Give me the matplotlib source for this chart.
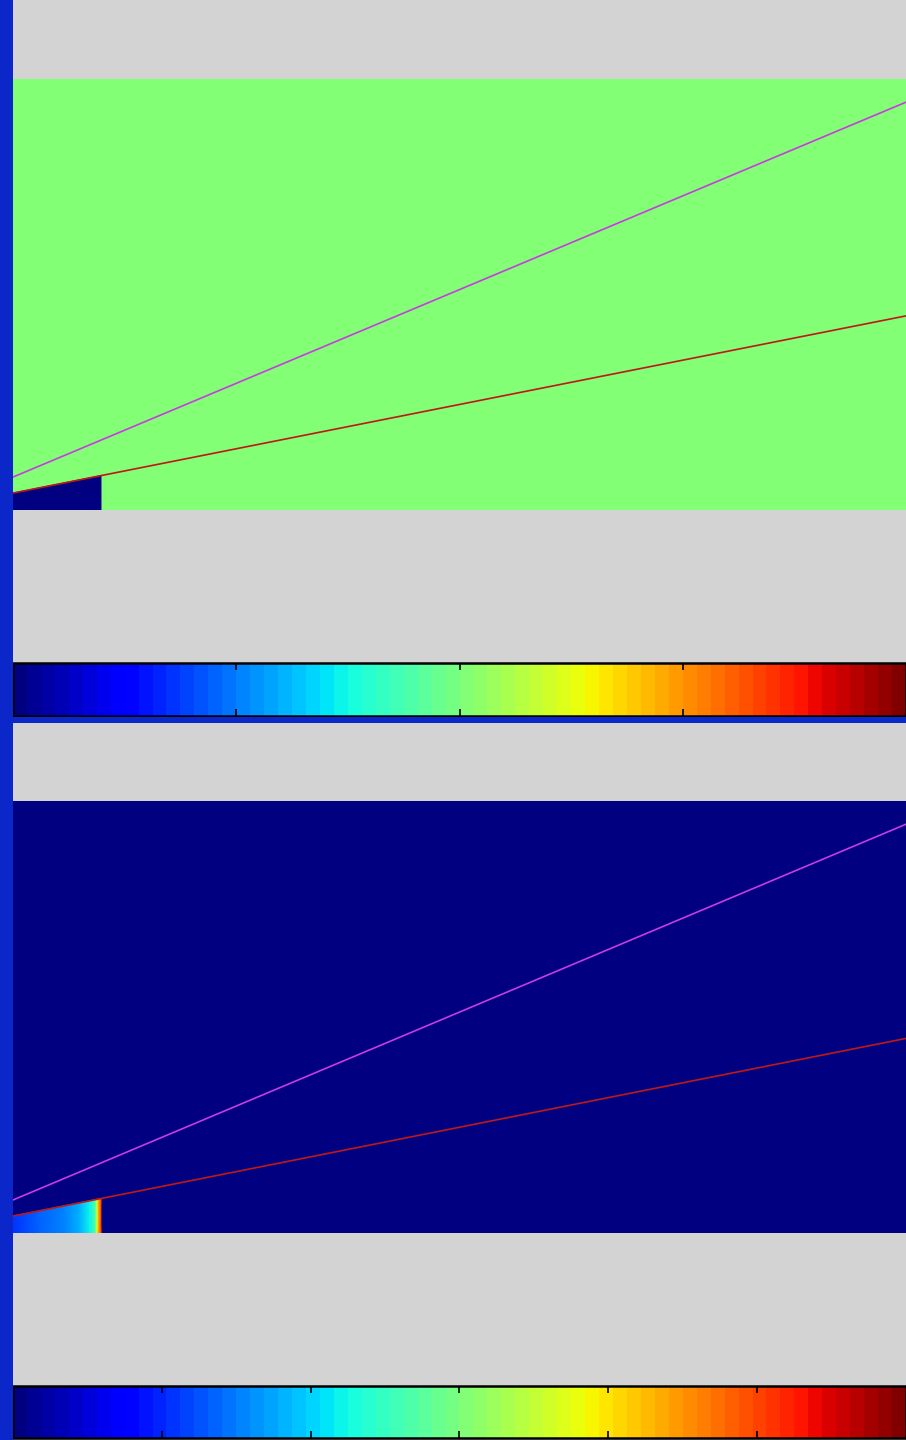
import numpy as np
import matplotlib
matplotlib.use("Agg")
import matplotlib.pyplot as plt
from matplotlib.colors import Normalize
from matplotlib.cm import ScalarMappable
from matplotlib.patches import Rectangle

# ---- data -------------------------------------------------------------
domain_x = [0.0, 1.0]
domain_y = [0.0, 0.484]
step_end_x = 0.0985                 # right edge of the region behind the step

shock_line = [0.037, 0.421]         # intercept, slope (magenta)
wedge_line = [0.019, 0.199]         # intercept, slope (red)

# upper field: uniform state with a depleted pocket behind the step
top_clim = [-1.0, 1.0]
top_ticks = [-0.5, 0.0, 0.5]
top_background = 0.0
top_pocket = -1.0

# lower field: zero outside, rising profile inside the pocket
bot_clim = [0.0, 3.0]
bot_ticks = [0.5, 1.0, 1.5, 2.0, 2.5]
bot_background = 0.0
pocket_x = [0.0, 0.030, 0.058, 0.075, 0.086, 0.092, 0.094, 0.096, 0.0985]
pocket_val = [0.54, 0.66, 0.78, 0.93, 1.11, 1.35, 1.80, 2.16, 2.55]

# ---- layout -----------------------------------------------------------
W, H = 906, 1440
GRAY = "#d3d3d3"
FRAME_BLUE = "#0b26c9"
cmap = plt.get_cmap("jet", 64)

fig = plt.figure(figsize=(W / 100, H / 100), dpi=100, facecolor=GRAY)


def box(x0, y0, x1, y1):
    return [x0 / W, 1 - y1 / H, (x1 - x0) / W, (y1 - y0) / H]


def draw_field(ax, norm, background, pocket_xs, pocket_vals):
    # whole domain at the background level
    X = np.array([domain_x, domain_x])
    Y = np.array([[domain_y[0]] * 2, [domain_y[1]] * 2])
    ax.pcolormesh(X, Y, np.full((1, 1), background), cmap=cmap, norm=norm,
                  shading="flat")
    # pocket under the wedge line, left of the step
    px = np.asarray(pocket_xs)
    top = wedge_line[0] + wedge_line[1] * px
    PX = np.vstack([px, px])
    PY = np.vstack([np.zeros_like(px), top])
    PC = np.vstack([pocket_vals, pocket_vals])
    ax.pcolormesh(PX, PY, PC, cmap=cmap, norm=norm, shading="gouraud")
    # lines
    xs = np.array(domain_x)
    ax.plot(xs, shock_line[0] + shock_line[1] * xs, color="#c83ce0", lw=1.2)
    ax.plot(xs, wedge_line[0] + wedge_line[1] * xs, color="#c01818", lw=1.2)
    ax.set_xlim(domain_x)
    ax.set_ylim(domain_y)
    ax.set_axis_off()


def draw_bar(cax, norm, ticks):
    cb = fig.colorbar(ScalarMappable(norm=norm, cmap=cmap), cax=cax,
                      orientation="horizontal", ticks=ticks)
    cb.ax.tick_params(direction="in", length=5, width=1.2, color="black",
                      top=True, bottom=True, labelbottom=False, labeltop=False)
    cb.outline.set_linewidth(1.8)
    cb.outline.set_edgecolor("black")


# upper panel
norm_top = Normalize(*top_clim)
ax1 = fig.add_axes(box(13, 79, 906, 510))
draw_field(ax1, norm_top, top_background,
           [domain_x[0], step_end_x], [top_pocket, top_pocket])
cax1 = fig.add_axes(box(13, 663, 906, 716))
draw_bar(cax1, norm_top, top_ticks)

# lower panel
norm_bot = Normalize(*bot_clim)
ax2 = fig.add_axes(box(13, 801, 906, 1233))
draw_field(ax2, norm_bot, bot_background, pocket_x, pocket_val)
cax2 = fig.add_axes(box(13, 1386, 906, 1438))
draw_bar(cax2, norm_bot, bot_ticks)

# window frame strips
fig.patches.append(Rectangle((0, 0), 13 / W, 1, transform=fig.transFigure,
                             facecolor=FRAME_BLUE, edgecolor="none", zorder=5))
fig.patches.append(Rectangle((0, 1 - 723 / H), 1, 6 / H,
                             transform=fig.transFigure,
                             facecolor=FRAME_BLUE, edgecolor="none", zorder=5))

fig.savefig("out.png", dpi=100, facecolor=GRAY)
